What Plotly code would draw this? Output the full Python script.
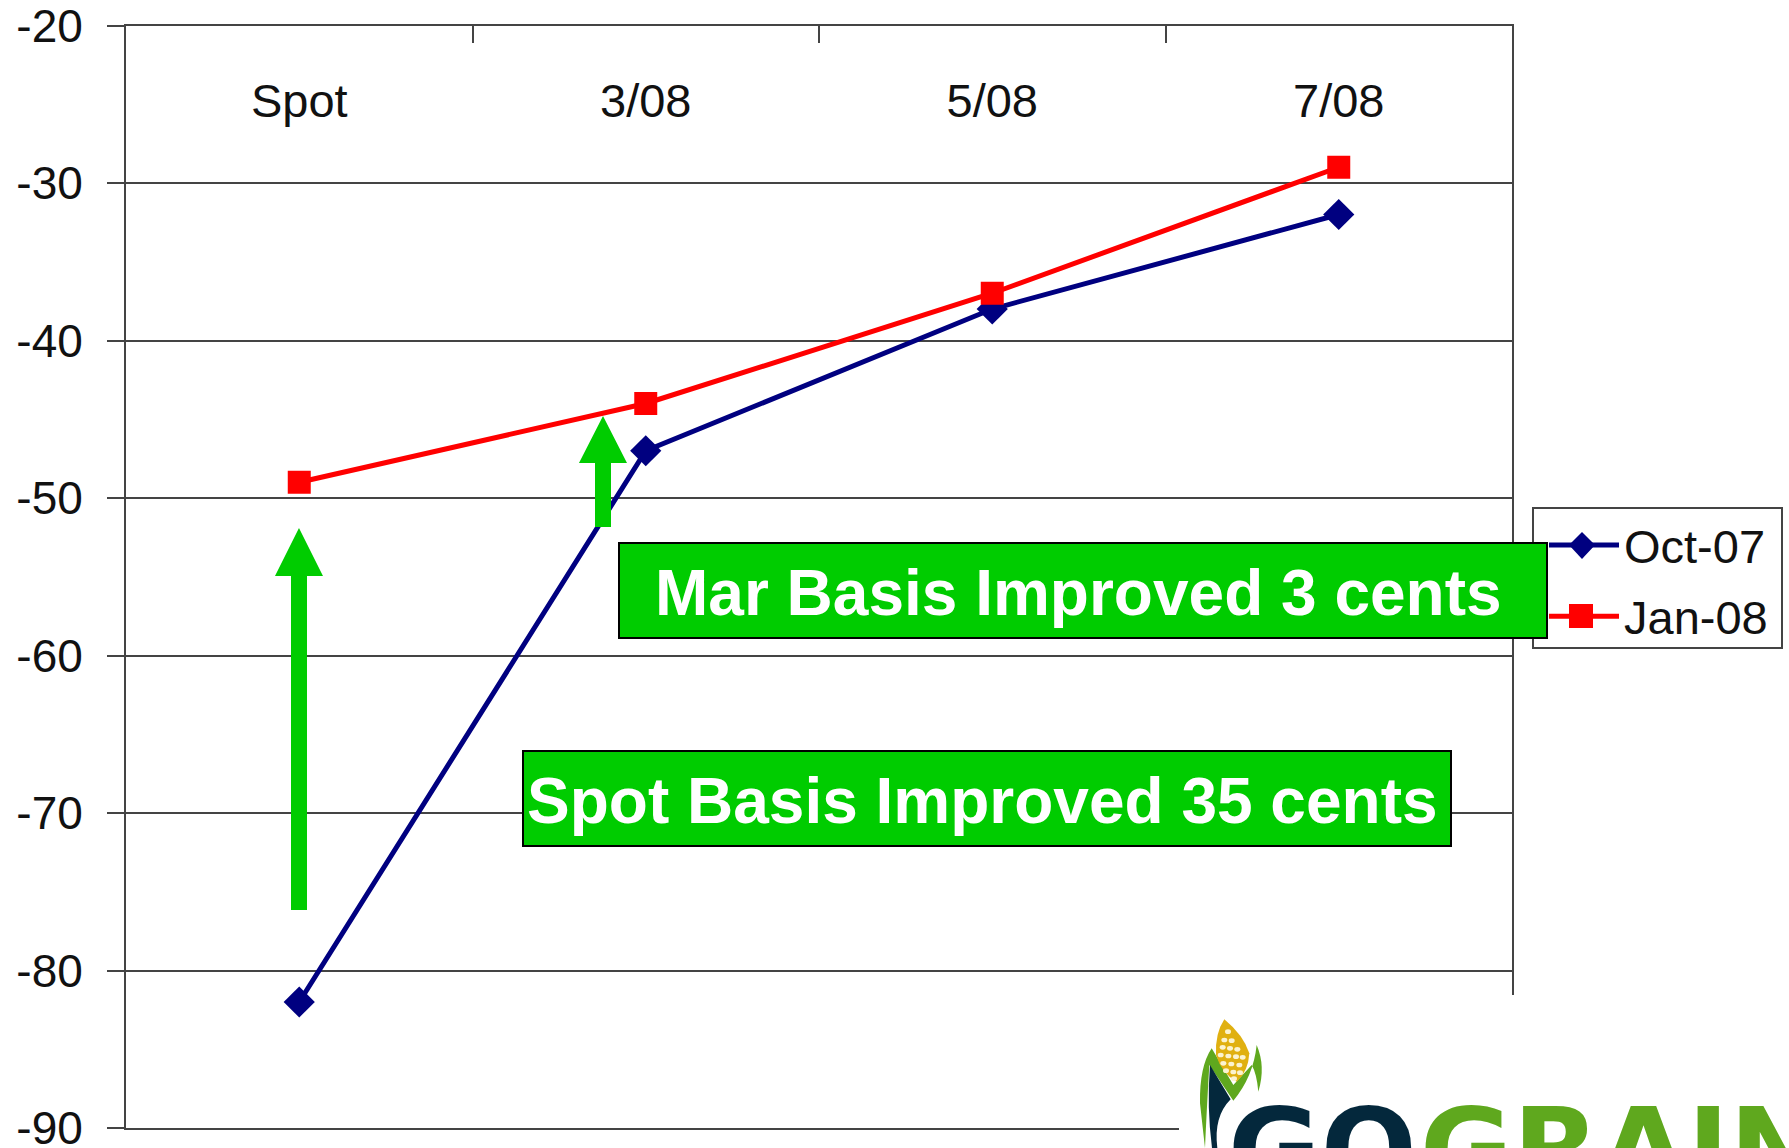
import plotly.graph_objects as go

W, H = 1789, 1148
categories = ["Spot", "3/08", "5/08", "7/08"]
oct_07 = [-82, -47, -38, -32]
jan_08 = [-49, -44, -37, -29]
y_ticks = [-20, -30, -40, -50, -60, -70, -80, -90]
y_labels = ["-20", "-30", "-40", "-50", "-60", "-70", "-80", "-90"]

LEFT, RIGHT, TOP, BOTTOM = 126, 1512, 25.5, 1128
GREEN = "#00cc00"
NAVY = "#000080"
RED = "#ff0000"
LOGO_GREEN = "#5fa81e"
LOGO_NAVY = "#04283c"
FONT = "Liberation Sans, Arial, sans-serif"
AXIS = "#444444"
TEXT = "#111111"


def fx(x):
    return x / W


def fy(y):
    return 1 - y / H


def poly(points, fill):
    d = "M " + " L ".join(f"{fx(x):.5f},{fy(y):.5f}" for x, y in points) + " Z"
    return dict(type="path", xref="paper", yref="paper", path=d, fillcolor=fill,
                line=dict(width=0), layer="above")


def curve(d_points, fill):
    parts = []
    for cmd, pts in d_points:
        parts.append(cmd + " " + " ".join(f"{fx(1190 + x / 3):.5f},{fy(1010 + y / 3):.5f}" for x, y in pts))
    return dict(type="path", xref="paper", yref="paper", path=" ".join(parts) + " Z",
                fillcolor=fill, line=dict(width=0), layer="above")


def arrow(cx, tail, base, tip, half_shaft, half_head):
    return poly([(cx - half_shaft, tail), (cx - half_shaft, base), (cx - half_head, base), (cx, tip),
                 (cx + half_head, base), (cx + half_shaft, base), (cx + half_shaft, tail)], GREEN)


def box(x0, x1, y0, y1, fill=GREEN, color="black"):
    return dict(type="rect", xref="paper", yref="paper", x0=fx(x0), x1=fx(x1), y0=fy(y0), y1=fy(y1),
                fillcolor=fill, line=dict(color=color, width=2), layer="above")


def kernel(x, y):
    return dict(type="circle", xref="paper", yref="paper", layer="above",
                x0=fx(1190 + (x - 9) / 3), x1=fx(1190 + (x + 9) / 3),
                y0=fy(1010 + (y + 7) / 3), y1=fy(1010 + (y - 7) / 3),
                fillcolor="#fbf3d0", line=dict(width=0))


fig = go.Figure()
fig.add_trace(go.Scatter(x=categories, y=oct_07, name="Oct-07", mode="lines+markers", legendgroup="a",
                         line=dict(color=NAVY, width=5),
                         marker=dict(symbol="diamond", size=24, color=NAVY)))
fig.add_trace(go.Scatter(x=categories, y=jan_08, name="Jan-08", mode="lines+markers", legendgroup="b",
                         line=dict(color=RED, width=5),
                         marker=dict(symbol="square", size=23, color=RED)))

kernels = [(114, 65), (103, 90), (125, 92), (98, 112), (120, 115), (142, 118), (92, 135), (115, 138),
           (138, 140), (158, 142), (100, 160), (124, 162), (148, 165), (108, 182), (130, 186), (150, 188), (132, 206)]

shapes = [
    # white area behind the logo, cuts the frame off as in the source slide
    dict(type="rect", xref="paper", yref="paper", x0=fx(1179), x1=1, y0=0, y1=fy(995),
         fillcolor="white", line=dict(width=0), layer="above"),
    # legend frame, sits beneath the green text box
    box(1533, 1782, 508, 648, fill="white", color=AXIS),
    poly([(1582, 532), (1595, 545), (1582, 559), (1569, 545)], NAVY),
    poly([(1569, 604), (1593, 604), (1593, 628), (1569, 628)], RED),
    arrow(299, 910, 576, 528, 8, 24),
    arrow(603, 527, 463, 416, 8, 24),
    box(619, 1547, 543, 638),
    box(523, 1451, 751, 846),
    # logo: leaf, blade, ear
    curve([("M", [(65, 115)]), ("Q", [(28, 170), (30, 280)]), ("L", [(45, 414), (70, 414)]),
           ("Q", [(50, 300), (58, 165)]), ("L", [(130, 272)]), ("Q", [(190, 200), (200, 105)]),
           ("Q", [(228, 170), (205, 245)]), ("Q", [(200, 190), (185, 165)]), ("L", [(130, 225)])], LOGO_GREEN),
    curve([("M", [(60, 165)]), ("L", [(122, 268), (112, 295), (80, 235)]), ("Q", [(70, 320), (82, 414)]),
           ("L", [(66, 414)]), ("Q", [(50, 290), (60, 165)])], LOGO_NAVY),
    curve([("M", [(103, 28)]), ("Q", [(160, 75), (178, 130)]), ("Q", [(175, 185), (140, 215)]),
           ("Q", [(95, 190), (78, 135)]), ("Q", [(75, 70), (103, 28)])], "#e0b010"),
] + [kernel(x, y) for x, y in kernels]

annotations = [
    dict(text="<b>Mar Basis Improved 3 cents</b>", x=fx(1078), y=fy(593), xanchor="center",
         font=dict(size=64, color="white", family=FONT)),
    dict(text="<b>Spot Basis Improved 35 cents</b>", x=fx(982), y=fy(801), xanchor="center",
         font=dict(size=64, color="white", family=FONT)),
    dict(text="<b>GO</b>", x=fx(1226), y=fy(1149), xanchor="left",
         font=dict(size=113, color=LOGO_NAVY, family="DejaVu Sans")),
    dict(text="<b>GRAIN</b>", x=fx(1418), y=fy(1149), xanchor="left",
         font=dict(size=113, color=LOGO_GREEN, family="DejaVu Sans")),
]
for a in annotations:
    a.update(xref="paper", yref="paper", showarrow=False, yanchor="middle")

fig.update_layout(
    width=W, height=H, margin=dict(l=0, r=0, t=0, b=0, autoexpand=False),
    paper_bgcolor="white", plot_bgcolor="white",
    font=dict(family=FONT, size=46, color=TEXT),
    showlegend=True, shapes=shapes, annotations=annotations,
    legend=dict(x=fx(1544), y=fy(508), xanchor="left", yanchor="top", bgcolor="rgba(0,0,0,0)",
                borderwidth=0, itemwidth=70, tracegroupgap=7,
                font=dict(size=47, family=FONT, color=TEXT), traceorder="grouped"),
    xaxis=dict(domain=[fx(LEFT), fx(RIGHT)], type="category", range=[-0.5, 3.5], side="top", automargin=False,
               categoryorder="array", categoryarray=categories, tickson="boundaries",
               ticks="inside", ticklen=17, tickwidth=2, tickcolor=AXIS,
               ticklabelposition="inside", ticklabelstandoff=48, ticklabeloverflow="allow",
               tickfont=dict(size=47, color=TEXT, family=FONT),
               showline=True, mirror=True, linecolor=AXIS, linewidth=2, showgrid=False, zeroline=False),
    yaxis=dict(domain=[fy(BOTTOM), fy(TOP)], range=[-90, -20], tickmode="array", automargin=False,
               tickvals=y_ticks, ticktext=y_labels, ticks="outside", ticklen=17, tickwidth=2,
               tickcolor=AXIS, ticklabelstandoff=15, ticklabeloverflow="allow",
               tickfont=dict(size=46, color=TEXT, family=FONT), showline=True, mirror=True,
               linecolor=AXIS, linewidth=2, showgrid=True, gridcolor=AXIS, gridwidth=2, zeroline=False),
)
fig.write_html("out.html", config=dict(displayModeBar=False), post_script="document.body.style.margin='0';")
